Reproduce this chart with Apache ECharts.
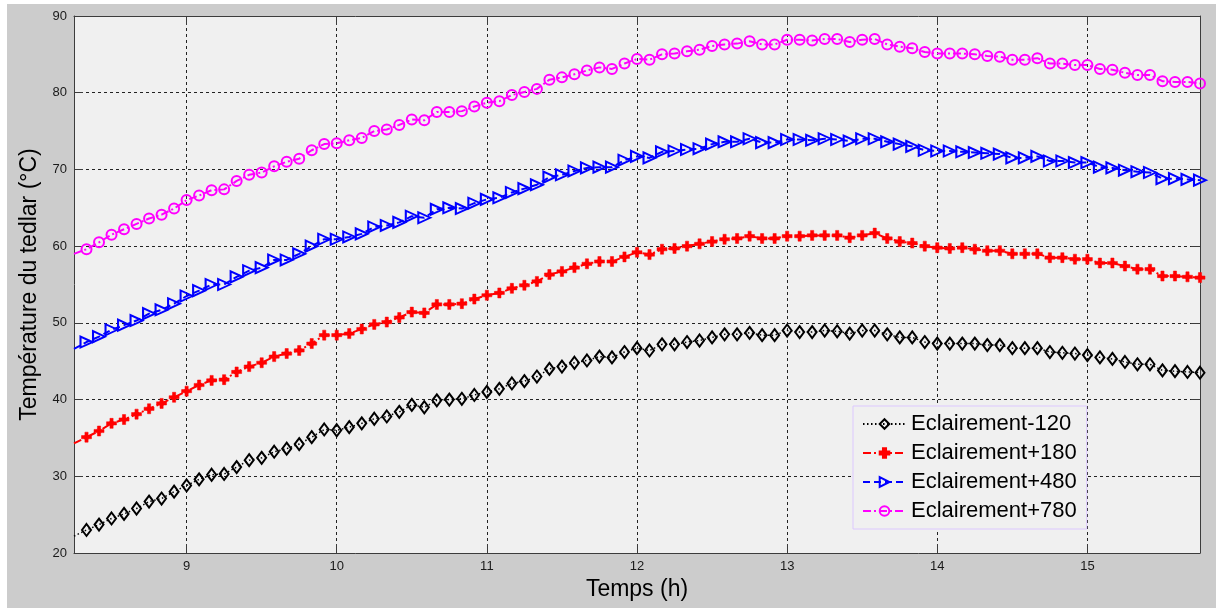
<!DOCTYPE html>
<html>
<head>
<meta charset="utf-8">
<script src="https://cdn.jsdelivr.net/npm/echarts@6/dist/echarts.min.js"></script>
<style>
  html, body { margin: 0; padding: 0; background: #fff; }
  #frame { position: absolute; left: 7px; top: 4px; right: 0; bottom: 0; background: #cccccc; }
  #chart { position: absolute; left: 0; top: 0; width: 1216px; height: 608px; }
</style>
</head>
<body>
<div id="frame"></div>
<div id="chart"></div>
<script>
// heure de départ et pas d'échantillonnage (5 min)
const startHour = 8.25;
const stepHour = 5 / 60;

const xTicks = [9, 10, 11, 12, 13, 14, 15];
const yTicks = [20, 30, 40, 50, 60, 70, 80, 90];

const seriesNames = ['Eclairement-120', 'Eclairement+180', 'Eclairement+480', 'Eclairement+780'];

// températures (°C)
const eclairementMoins120 = [
  22.2, 23.0, 23.7, 24.5, 25.1, 25.8, 26.7, 27.1, 28.0, 28.8,
  29.6, 30.2, 30.3, 31.2, 32.1, 32.4, 33.2, 33.6, 34.2, 35.1,
  36.1, 36.0, 36.4, 36.9, 37.5, 37.8, 38.4, 39.3, 39.0, 39.9,
  40.0, 40.1, 40.6, 41.0, 41.4, 42.1, 42.4, 43.0, 44.0, 44.3,
  44.8, 45.1, 45.6, 45.5, 46.2, 46.7, 46.4, 47.2, 47.2, 47.5,
  47.7, 48.1, 48.5, 48.5, 48.7, 48.4, 48.4, 49.0, 48.8, 48.8,
  49.0, 48.9, 48.6, 49.0, 49.0, 48.5, 48.1, 48.1, 47.5, 47.3,
  47.3, 47.3, 47.3, 47.1, 47.1, 46.7, 46.7, 46.7, 46.2, 46.1,
  46.0, 45.8, 45.5, 45.3, 44.9, 44.6, 44.6, 43.8, 43.7, 43.6,
  43.5
];
const eclairementPlus180 = [
  34.3, 35.1, 35.9, 36.9, 37.4, 38.1, 38.8, 39.5, 40.3, 41.1,
  41.9, 42.5, 42.6, 43.6, 44.3, 44.8, 45.6, 46.0, 46.4, 47.3,
  48.4, 48.4, 48.6, 49.2, 49.8, 50.1, 50.7, 51.4, 51.3, 52.4,
  52.4, 52.5, 53.1, 53.6, 53.9, 54.5, 54.9, 55.4, 56.3, 56.7,
  57.2, 57.7, 58.0, 58.0, 58.6, 59.2, 58.9, 59.6, 59.7, 60.0,
  60.3, 60.6, 60.9, 61.0, 61.3, 61.0, 61.0, 61.3, 61.3, 61.4,
  61.4, 61.4, 61.1, 61.4, 61.7, 61.0, 60.6, 60.4, 60.0, 59.8,
  59.7, 59.8, 59.6, 59.4, 59.4, 59.0, 59.0, 59.0, 58.5, 58.5,
  58.3, 58.3, 57.8, 57.8, 57.4, 57.0, 57.0, 56.1, 56.1, 56.0,
  55.9
];
const eclairementPlus480 = [
  46.6, 47.5, 48.2, 49.1, 49.7, 50.3, 51.2, 51.7, 52.5, 53.5,
  54.2, 55.0, 55.0, 56.0, 56.8, 57.2, 58.2, 58.2, 59.0, 60.0,
  60.9, 60.9, 61.2, 61.6, 62.5, 62.7, 63.1, 63.9, 63.7, 64.8,
  65.0, 64.9, 65.6, 66.1, 66.3, 67.0, 67.5, 68.0, 69.0, 69.3,
  69.8, 70.2, 70.3, 70.3, 71.2, 71.7, 71.5, 72.3, 72.4, 72.6,
  72.7, 73.3, 73.6, 73.6, 74.0, 73.5, 73.5, 73.9, 73.9, 73.8,
  74.0, 73.9, 73.7, 74.0, 74.0, 73.6, 73.3, 73.0, 72.5, 72.4,
  72.4, 72.3, 72.2, 72.1, 72.0, 71.5, 71.5, 71.7, 71.1, 71.1,
  70.9, 70.9, 70.3, 70.2, 69.9, 69.7, 69.6, 68.8, 68.8, 68.7,
  68.6
];
const eclairementPlus780 = [
  59.0, 59.6, 60.5, 61.5, 62.2, 62.9, 63.6, 64.1, 64.9, 66.0,
  66.6, 67.3, 67.4, 68.5, 69.3, 69.6, 70.4, 71.0, 71.4, 72.5,
  73.3, 73.4, 73.8, 74.1, 75.0, 75.2, 75.8, 76.5, 76.4, 77.5,
  77.5, 77.6, 78.2, 78.7, 78.9, 79.7, 80.1, 80.5, 81.7, 82.0,
  82.4, 82.9, 83.3, 83.1, 83.8, 84.4, 84.3, 85.0, 85.1, 85.4,
  85.6, 86.1, 86.3, 86.4, 86.7, 86.3, 86.3, 86.9, 86.9, 86.8,
  87.0, 87.0, 86.6, 86.9, 87.0, 86.3, 86.0, 85.8, 85.3, 85.1,
  85.1, 85.1, 85.0, 84.8, 84.7, 84.3, 84.3, 84.5, 83.8, 83.8,
  83.6, 83.6, 83.1, 83.0, 82.6, 82.3, 82.3, 81.5, 81.4, 81.4,
  81.2
];

const fontFamily = '"Liberation Sans", Arial, sans-serif';
const plotBg = '#f0f0f0';
const axisColor = '#3c3c3c';

// astérisque façon matlab (croix épaisse + losange central)
const starPath = 'path://M-1.6,-5 L1.6,-5 L1.6,-1.6 L5,-1.6 L5,1.6 L1.6,1.6 L1.6,5 L-1.6,5 L-1.6,1.6 L-5,1.6 L-5,-1.6 L-1.6,-1.6 Z '
  + 'M0,-3.6 L3.6,0 L0,3.6 L-3.6,0 Z';

// le premier point (bord gauche) n'a pas de marqueur visible
const toPoints = values => values.map((v, i) => {
  const t = startHour + i * stepHour;
  return i === 0 ? { value: [t, v], symbol: 'none' } : [t, v];
});

const makeSeries = (name, values, color, lineType, width, symbol, size, extra) => Object.assign({
  name: name,
  type: 'line',
  data: toPoints(values),
  symbol: symbol,
  symbolSize: size,
  showAllSymbol: true,
  clip: false,
  animation: false,
  lineStyle: { color: color, width: width, type: lineType },
  itemStyle: { color: 'rgba(0,0,0,0)', borderColor: color, borderWidth: 2 },
  emphasis: { disabled: true }
}, extra || {});

const chart = echarts.init(document.getElementById('chart'), null, { renderer: 'canvas' });

const axisCommon = {
  type: 'value',
  axisLine: { show: true, onZero: false, lineStyle: { color: axisColor, width: 1 } },
  axisTick: { show: true, inside: true, length: 9, lineStyle: { color: axisColor } },
  splitLine: { show: false }
};

chart.setOption({
  animation: false,
  textStyle: { fontFamily: fontFamily },
  grid: {
    left: 74, top: 16, right: 16, bottom: 55,
    show: true, backgroundColor: plotBg, borderWidth: 0
  },
  legend: {
    orient: 'vertical',
    left: 853, top: 406,
    data: seriesNames,
    backgroundColor: plotBg,
    borderColor: '#dcc8ff',
    borderWidth: 1,
    borderRadius: 0,
    padding: [7, 10, 7, 9],
    itemGap: 7,
    itemWidth: 43,
    itemHeight: 12,
    textStyle: { fontSize: 22, color: '#000', fontFamily: fontFamily }
  },
  xAxis: [
    Object.assign({}, axisCommon, {
      min: startHour, max: 15.75,
      position: 'bottom',
      name: 'Temps (h)',
      nameLocation: 'middle',
      nameGap: 23,
      nameTextStyle: { fontSize: 23, color: '#000', fontFamily: fontFamily },
      axisTick: { show: true, inside: true, length: 9, customValues: xTicks, lineStyle: { color: axisColor } },
      axisLabel: { customValues: xTicks, fontSize: 13, color: '#1a1a1a', margin: 7, fontFamily: fontFamily },
      splitLine: { show: true, lineStyle: { color: '#222', type: [3, 3], width: 1 } }
    }),
    Object.assign({}, axisCommon, {
      min: startHour, max: 15.75,
      position: 'top',
      axisTick: { show: true, inside: true, length: 9, customValues: xTicks, lineStyle: { color: axisColor } },
      axisLabel: { show: false }
    })
  ],
  yAxis: [
    Object.assign({}, axisCommon, {
      min: yTicks[0], max: yTicks[yTicks.length - 1], interval: 10,
      position: 'left',
      name: 'Température du tedlar (°C)',
      nameLocation: 'middle',
      nameGap: 24,
      nameTextStyle: { fontSize: 23, color: '#000', fontFamily: fontFamily },
      axisLabel: { fontSize: 13, color: '#1a1a1a', margin: 7, fontFamily: fontFamily },
      splitLine: { show: true, lineStyle: { color: '#222', type: [3, 3], width: 1 } }
    }),
    Object.assign({}, axisCommon, {
      min: yTicks[0], max: yTicks[yTicks.length - 1], interval: 10,
      position: 'right',
      axisLabel: { show: false }
    })
  ],
  series: [
    makeSeries(seriesNames[0], eclairementMoins120, '#000000', [1.5, 2.5], 1.5, 'diamond', [9, 12]),
    makeSeries(seriesNames[1], eclairementPlus180, '#ff0000', [8, 3, 2, 3], 2, starPath, 10,
      { itemStyle: { color: '#ff0000', borderColor: '#ff0000', borderWidth: 0.5 } }),
    makeSeries(seriesNames[2], eclairementPlus480, '#0000ff', [7, 4], 2, 'triangle', [11, 12], { symbolRotate: -90 }),
    makeSeries(seriesNames[3], eclairementPlus780, '#ff00ff', [8, 3, 2, 3], 2, 'circle', 10)
  ]
});
</script>
</body>
</html>
